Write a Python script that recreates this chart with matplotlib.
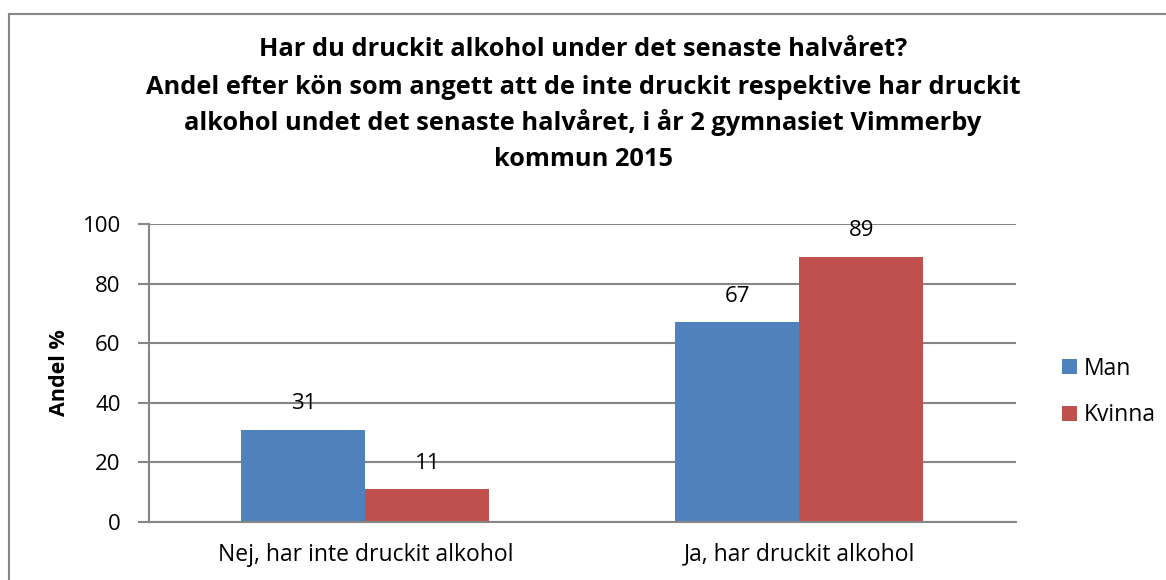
import matplotlib
matplotlib.use("Agg")
import matplotlib.pyplot as plt
from matplotlib.lines import Line2D
import numpy as np

categories = ["Nej, har inte druckit alkohol", "Ja, har druckit alkohol"]
series_names = ["Man", "Kvinna"]
man = [31, 67]
kvinna = [11, 89]
colors = ["#4F81BD", "#C0504D"]
title_lines = ["Har du druckit alkohol under det senaste halvåret?",
               "Andel efter kön som angett att de inte druckit respektive har druckit",
               "alkohol undet det senaste halvåret, i år 2 gymnasiet Vimmerby",
               "kommun 2015"]

plt.rcParams['font.family'] = ['Open Sans', 'DejaVu Sans']

W, H = 1166, 580
fig = plt.figure(figsize=(W/100, H/100), dpi=100)
gray = "#868686"
fig.add_artist(Line2D([9/W, 1], [1 - 14/H, 1 - 14/H], transform=fig.transFigure, color=gray, lw=1.5))
fig.add_artist(Line2D([9/W, 9/W], [0, 1 - 14/H], transform=fig.transFigure, color=gray, lw=1.5))

left, right, top, bottom = 148.5, 1016, 224, 522
ax = fig.add_axes([left/W, 1 - bottom/H, (right-left)/W, (bottom-top)/H])

x = np.arange(len(categories))
bw = 0.286
b1 = ax.bar(x - bw/2, man, bw, color=colors[0], label=series_names[0])
b2 = ax.bar(x + bw/2, kvinna, bw, color=colors[1], label=series_names[1])
for bars, vals in ((b1, man), (b2, kvinna)):
    for r, v in zip(bars, vals):
        ax.annotate(f"{v}", (r.get_x() + r.get_width()/2, v), xytext=(0, 26),
                    textcoords="offset pixels", ha="center", va="center", fontsize=16)

ax.set_xlim(-0.5, 1.5)
ax.set_ylim(0, 100)
ax.set_yticks(range(0, 101, 20))
ax.set_xticks(x)
ax.set_xticklabels(categories, fontsize=16.5)
ax.tick_params(axis='y', labelsize=16, length=8, width=1.5, color=gray, pad=12)
ax.tick_params(axis='x', length=0, pad=15)
ax.grid(axis='y', color=gray, linewidth=1.5)
ax.set_axisbelow(True)
for s in ["top", "right"]:
    ax.spines[s].set_visible(False)
for s in ["left", "bottom"]:
    ax.spines[s].set_color(gray)
    ax.spines[s].set_linewidth(1.5)
ax.set_ylabel("Andel %", fontsize=15.5, fontweight="bold", labelpad=9)

for i, (ln, yc) in enumerate(zip(title_lines, [50, 87, 123, 160])):
    fig.text(583/W, 1 - yc/H, ln, ha="center", va="center", fontsize=18.3, fontweight="bold")

leg = ax.legend(loc="center left", bbox_to_anchor=((1053-left)/(right-left), (bottom-392)/(bottom-top)),
                frameon=False, fontsize=16.5, handlelength=0.65, handleheight=0.65,
                labelspacing=1.0, handletextpad=0.3, borderaxespad=0)

fig.savefig("out.png", dpi=100)
